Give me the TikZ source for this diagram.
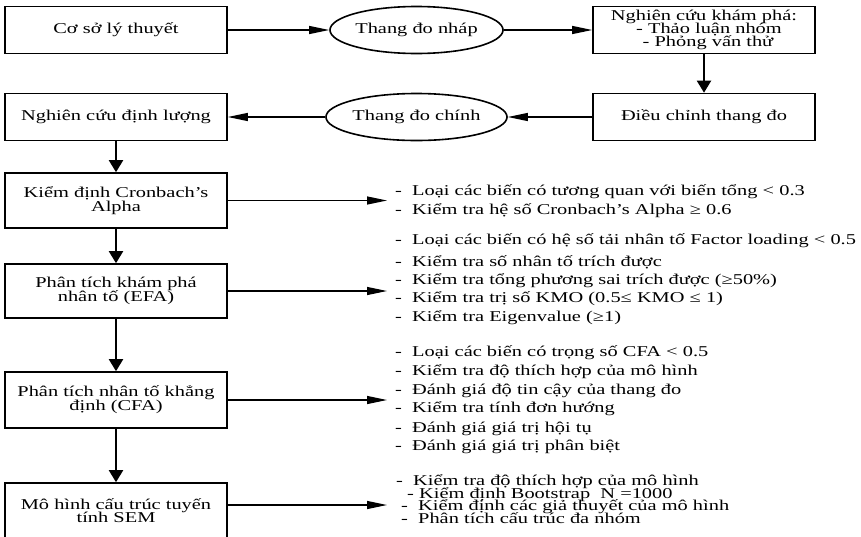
\documentclass[tikz,border=0pt]{standalone}
\usepackage{fontspec}
\setmainfont[FakeStretch=1.36]{Liberation Serif}
\usetikzlibrary{arrows.meta,shapes.geometric}
\newcommand\tightl{\lineskiplimit=-50pt\relax\lineskip=0pt\relax}
\begin{document}
\begin{tikzpicture}[x=1pt,y=-1pt,
  txt/.style={font=\fontsize{15}{14}\selectfont\tightl},
  box/.style={txt, draw, line width=1.6pt, minimum width=222pt, minimum height=47pt, inner sep=0pt, align=center},
  ell/.style={txt, draw, ellipse, line width=1.6pt, minimum width=163pt, minimum height=47pt, inner sep=0pt},
  harr/.style={-{Triangle[length=20pt,width=8pt]}, line width=1.2pt},
  varr/.style={-{Triangle[length=12pt,width=14pt]}, line width=2pt},
  item/.style={txt, anchor=base west, inner sep=0pt}]
\clip (0,0) rectangle (861,536);
\fill[white] (0,0) rectangle (861,536);

\node[box, font=\fontsize{15}{13}\selectfont\tightl] (b3) at (704,30) {Nghiên cứu khám phá:\\ \hspace*{10pt}- Thảo luận nhóm\\ \hspace*{8pt}- Phỏng vấn thử};
\node[box] (b1) at (116,30) {Cơ sở lý thuyết};
\node[ell] (e1) at (416.5,30) {Thang đo nháp};
\node[box] (b4) at (704,117) {Điều chỉnh thang đo};
\node[ell] (e2) at (416.5,117) {Thang đo chính};
\node[box] (b5) at (116,117) {Nghiên cứu định lượng};
\node[box, minimum height=55pt] (b6) at (116,200.5) {Kiểm định Cronbach’s\\Alpha};
\node[box, minimum height=54pt] (b7) at (116,291) {Phân tích khám phá\\nhân tố (EFA)};
\node[box, minimum height=56pt] (b8) at (116,400) {Phân tích nhân tố khẳng\\định (CFA)};
\node[box, minimum height=55pt, font=\fontsize{15}{13}\selectfont\tightl] (b9) at (116,510.5) {Mô hình cấu trúc tuyến\\tính SEM};

\draw[harr] (b1) -- (e1);
\draw[harr] (e1) -- (b3);
\draw[varr] (b3) -- (b4);
\draw[harr] (b4) -- (e2);
\draw[harr] (e2) -- (b5);
\draw[varr] (b5) -- (b6);
\draw[varr] (b6) -- (b7);
\draw[varr] (b7) -- (b8);
\draw[varr] (b8) -- (b9);

\coordinate (t1) at (387,200.5);
\coordinate (t2) at (387,291);
\coordinate (t3) at (387,400);
\coordinate (t4) at (387,505);
\draw[harr] (b6.east) -- (t1);
\draw[harr] (b7.east) -- (t2);
\draw[harr] (b8.east) -- (t3);
\draw[harr] (b9.east |- t4) -- (t4);

\node[item] (a1) at (395,195) {-\ \ Loại các biến có tương quan với biến tổng < 0.3};
\node[item] (a2) at (395,214.5) {-\ \ Kiểm tra hệ số Cronbach’s Alpha ≥ 0.6};

\node[item] (f1) at (395,244.5) {-\ \ Loại các biến có hệ số tải nhân tố Factor loading < 0.5};
\node[item] (f2) at (395,266) {-\ \ Kiểm tra số nhân tố trích được};
\node[item] (f3) at (395,284.5) {-\ \ Kiểm tra tổng phương sai trích được (≥50\%)};
\node[item] (f4) at (395,302.5) {-\ \ Kiểm tra trị số KMO (0.5≤ KMO ≤ 1)};
\node[item] (f5) at (395,321) {-\ \ Kiểm tra Eigenvalue (≥1)};

\node[item] (c1) at (395,356.5) {-\ \ Loại các biến có trọng số CFA < 0.5};
\node[item] (c2) at (395,375.5) {-\ \ Kiểm tra độ thích hợp của mô hình};
\node[item] (c3) at (395,394.5) {-\ \ Đánh giá độ tin cậy của thang đo};
\node[item] (c4) at (395,412.5) {-\ \ Kiểm tra tính đơn hướng};
\node[item] (c5) at (395,432) {-\ \ Đánh giá giá trị hội tụ};
\node[item] (c6) at (395,450.5) {-\ \ Đánh giá giá trị phân biệt};

\node[item, align=left, font=\fontsize{15}{12.4}\selectfont\tightl] (s1) at (396,523)
  {-\ \ Kiểm tra độ thích hợp của mô hình\\
   \hspace*{11pt}-\ Kiểm định Bootstrap\ \ N =1000\\
   \hspace*{5pt}-\ \ Kiểm định các giả thuyết của mô hình\\
   \hspace*{5pt}-\ \ Phân tích cấu trúc đa nhóm};
\end{tikzpicture}
\end{document}
